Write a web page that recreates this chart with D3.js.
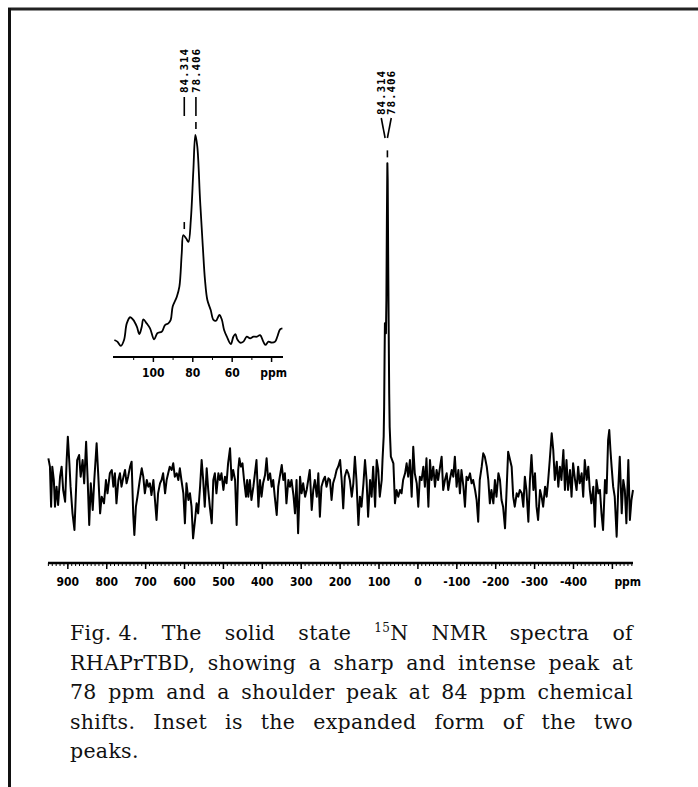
<html>
<head>
<script src="https://d3js.org/d3.v7.min.js"></script>
<style>
  body { margin: 0; background: #fff; }
  .tick-label { font-family: "Liberation Sans Narrow", "DejaVu Sans Condensed", sans-serif; font-weight: bold; font-stretch: condensed; }
  .peak-label { font-family: "DejaVu Sans Mono", monospace; font-weight: bold; }
  .caption { font-family: "DejaVu Serif", "Liberation Serif", serif; }
</style>
</head>
<body>
<div id="vis"></div>
<script>
// main spectrum, [ppm, relative intensity]
var mainSpectrum = [[950,9.5],[946,7],[943,-5],[940,7],[936,3],[933,-5],[929,1],[925,-4.5],[920,4],[916,7],[912,0],[907,-3.5],[903,9],[900,16],[896,8],[893,1],[888,-7],[883,-12],[879,0],[876,9],[871,10.5],[867,4],[862,9],[858,2],[853,14.5],[849,3],[845,-10.5],[841,2],[836,-6],[832,3],[826,14],[822,5],[817,-7],[813,-2],[807,-4],[802,3],[798,-1],[792,5],[787,6],[783,1],[779,5],[775,-4],[770,3],[766,5],[762,1],[757,4],[753,6],[749,2],[745,4],[740,7],[736,8.5],[732,-7],[729,-13.5],[725,-5],[721,-2],[715,3],[710,6.5],[706,4],[702,-1],[697,3],[693,1],[689,2],[685,-1.5],[680,3],[676,-3],[672,-9],[668,-1],[663,2],[659,3],[655,5],[650,-1],[646,3],[642,5],[638,7],[633,6],[629,8],[625,4],[620,5],[616,3],[612,6.5],[608,3],[603,-1],[599,-10],[595,2],[590,-3],[586,-1],[582,-5],[578,-14.5],[573,-9],[569,-4],[565,-7],[560,1],[556,9],[552,3],[548,-5],[543,6.5],[539,0],[535,-5],[530,-10],[526,3],[522,5],[518,-1],[513,5],[509,3],[505,5],[500,0],[496,4],[492,2],[488,8],[483,12.5],[479,3],[475,6],[470,3],[466,-10.5],[462,6],[459,9.5],[455,7],[451,8],[447,3],[442,-2],[439,3],[436,-2],[432,3],[428,-3],[423,1],[419,5],[415,9],[410,-5],[406,3],[402,-2],[398,2],[393,4.5],[389,9.5],[385,3],[380,5],[376,1],[372,3],[368,-2],[363,-7.5],[359,1],[355,4],[350,7.5],[346,3],[342,5],[338,-4],[333,3],[329,1],[325,3],[320,-1.5],[316,-7],[312,3],[308,-13],[303,4],[299,-1],[295,2],[290,-2],[286,0],[282,3],[278,6],[273,-6],[269,0],[265,3],[260,-2],[256,5],[252,-8],[248,1],[243,3],[239,4],[235,1],[230,3.5],[226,3],[222,-3],[218,2],[213,4],[209,6],[205,7],[200,9],[196,3],[192,-5.5],[188,4],[183,6],[179,5],[175,3],[170,-2],[166,2],[162,10],[158,3],[153,-10.5],[149,-2],[145,-5],[140,2],[136,9],[132,3],[128,-8],[123,3],
  [119,-2],[115,7],[110,-5],[106,9],[102,6],[98,-2],[93,3],
  [91,9],[88,16],[86.8,25],[85.6,41],[84.8,50],[83.4,48],[82.2,47],[81,57],[79.7,81],[78.5,98],[77.7,93],[76.3,67],[74.9,45],[73.8,29],[72.6,19],[70.9,14],[69.5,10],
  [63,8],[59,-4],[55,0],[50.5,-2],[46,0],[42,-1],[38,3],[33,5],[29,8],[25,4],[20.5,9],[16,-2],[12,13],[8,5],[3,2],[-1,-5],[-5,4],[-9.5,3],[-14,7],[-18,1],[-22,9.5],[-27,-5],[-31,9],[-35,3],[-39.5,7],[-44,1],[-48,6],[-52,3],[-57,7],[-61,10],[-65,0],[-69.5,3],[-74,5],[-78,0],[-82,3],[-87,6],[-91,4],[-95,10],[-99.5,1],[-104,6],[-108,-1],[-112,6],[-117,1],[-121,-5],[-125,4],[-129,3],[-134,5],[-138,2],[-142,3],[-147,0],[-151,-3],[-155,-9.5],[-159,3],[-164,7],[-168,11],[-172,10],[-177,7],[-181,3],[-185,-4],[-189,0],[-194,-4],[-198,3],[-202,-2],[-207,5],[-211,3],[-215,-3],[-219,-5],[-224,-11.5],[-228,0],[-232,11.5],[-237,9],[-241,7],[-245,-2],[-249,-5],[-254,-1],[-258,-2],[-262,0],[-267,-1],[-271,-5],[-275,4],[-279,0],[-284,-9.5],[-288,3],[-292,10.5],[-297,0],[-301,5],[-305,-5],[-309,-9],[-314,0],[-318,-2],[-322,-5],[-327,1],[-331,-2],[-335,3],[-339,9],[-344,17],[-348,12],[-352,3],[-357,8.5],[-361,1],[-365,7],[-369,3],[-374,12],[-378,0],[-382,9],[-386,0],[-391,6],[-395,-2],[-399,8],[-404,3],[-408,0],[-412,7],[-416,2],[-421,5],[-425,-2],[-429,9],[-434,3],[-438,7],[-442,0],[-446,-4],[-451,1],[-455,-11],[-459,3],[-464,-1],[-468,0],[-472,-7],[-476,-12],[-481,3],[-485,-1],[-489,15],[-492,18],[-495,12],[-498,7],[-502,1],[-506,-2],[-511,-14],[-515,0],[-519,10],[-524,-7],[-528,3],[-532,0],[-536,-10],[-541,9],[-545,-9],[-549,-3],[-553,0]];

// expanded inset, [ppm, relative intensity]
var insetSpectrum = [[119.8,0],[118.3,-0.8],[116.5,-2.9],[114.9,0],[113.5,8.1],[111.8,11.1],[110.2,9.8],[108.4,6.5],[107.1,2.9],[105.9,6.5],[105.1,10.1],[103.4,8.1],[101.7,5.7],[99.6,0.3],[98.0,3.3],[95.7,4.1],[94.1,7.3],[92.4,8.1],[91.2,9.8],[90.2,16.3],[88.1,21.1],[86.8,26],[85.6,42.3],[84.8,51.2],[83.4,49.6],[82.2,47.9],[81.0,58.5],[79.7,82.9],[78.7,100],[77.7,94.3],[76.3,68.3],[74.9,45.5],[73.8,29.3],[72.6,19.5],[70.9,14.6],[69.5,9.8],[68.2,9.4],[66.5,12.2],[65.3,10.1],[64.1,4.9],[62.7,1.6],[60.7,-2],[59.4,1.6],[58.4,2.9],[57.4,0.3],[56.0,-1.3],[54.3,-0.8],[52.6,1.6],[50.9,0.8],[49.2,1.6],[47.5,1.6],[45.8,2.4],[44.2,-0.8],[43.1,-2.4],[41.6,-0.8],[39.9,-1.3],[38.2,-0.8],[37.1,1.6],[35.7,5.2],[34.5,5.7]];

var mainTicks = [900, 800, 700, 600, 500, 400, 300, 200, 100, 0, -100, -200, -300, -400];
var insetTicks = [100, 80, 60];
var peakLabels = ["84.314", "78.406"];
var peakPpm = [84.314, 78.406];
var mainPeakInt = 98;
var insetPeakInt = [51.2, 100];

var captionLines = [
  ["Fig. 4.", "The", "solid", "state", "15N", "NMR", "spectra", "of"],
  ["RHAPrTBD,", "showing", "a", "sharp", "and", "intense", "peak", "at"],
  ["78", "ppm", "and", "a", "shoulder", "peak", "at", "84", "ppm", "chemical"],
  ["shifts.", "Inset", "is", "the", "expanded", "form", "of", "the", "two"],
  ["peaks."]
];

var W = 698, H = 787;
var svg = d3.select("#vis").append("svg")
  .attr("width", W).attr("height", H);

// frame
svg.append("line").attr("x1", 8).attr("x2", W).attr("y1", 9).attr("y2", 9)
  .attr("stroke", "#222").attr("stroke-width", 3);
svg.append("line").attr("x1", 9.5).attr("x2", 9.5).attr("y1", 8).attr("y2", H)
  .attr("stroke", "#111").attr("stroke-width", 3);

// ---- main spectrum ----
var x = d3.scaleLinear().domain([951, -553]).range([48, 633]);
var y = d3.scaleLinear().domain([0, 100]).range([490, 156.7]);
var axisY = 563;

var line = d3.line()
  .x(function (d) { return x(d[0]); })
  .y(function (d) { return y(d[1]); });

svg.append("path").datum(mainSpectrum)
  .attr("d", line)
  .attr("fill", "none").attr("stroke", "#000")
  .attr("stroke-width", 2).attr("stroke-linejoin", "round");

var gx = svg.append("g").attr("transform", "translate(0," + axisY + ")");
gx.append("line").attr("x1", x(951)).attr("x2", x(-553))
  .attr("stroke", "#000").attr("stroke-width", 2.5);
gx.selectAll(".minor").data(d3.range(-550, 951, 10)).enter().append("line")
  .attr("x1", function (d) { return x(d); }).attr("x2", function (d) { return x(d); })
  .attr("y1", 0).attr("y2", 3).attr("stroke", "#000").attr("stroke-width", 1);
gx.selectAll(".major").data(mainTicks.concat([-500])).enter().append("line")
  .attr("x1", function (d) { return x(d); }).attr("x2", function (d) { return x(d); })
  .attr("y1", 0).attr("y2", 6).attr("stroke", "#000").attr("stroke-width", 1.5);
gx.selectAll(".lab").data(mainTicks).enter().append("text")
  .attr("class", "tick-label")
  .attr("x", function (d) { return x(d); }).attr("y", 23)
  .attr("text-anchor", "middle").style("font-size", "12px")
  .text(function (d) { return d; });
gx.append("text").attr("class", "tick-label")
  .attr("x", x(-500) + 2).attr("y", 23).style("font-size", "12px")
  .text("ppm");

// peak labels, main
var mainMid = (x(peakPpm[0]) + x(peakPpm[1])) / 2;
peakLabels.forEach(function (t, i) {
  var lx = mainMid + (i === 0 ? -5 : 5);
  svg.append("text").attr("class", "peak-label")
    .attr("transform", "translate(" + lx + ",115) rotate(-90)")
    .attr("dy", "0.38em").style("font-size", "11px").style("letter-spacing", "0.9px")
    .text(t);
  svg.append("line").attr("x1", lx).attr("y1", 118)
    .attr("x2", x(peakPpm[i])).attr("y2", 138)
    .attr("stroke", "#000").attr("stroke-width", 1.6);
});
var mpy = y(mainPeakInt);
svg.append("line").attr("x1", x(peakPpm[1])).attr("x2", x(peakPpm[1]))
  .attr("y1", mpy - 13).attr("y2", mpy - 6)
  .attr("stroke", "#000").attr("stroke-width", 1.6);

// ---- inset ----
var xi = d3.scaleLinear().domain([120.5, 34.2]).range([113, 283]);
var yi = d3.scaleLinear().domain([0, 100]).range([340, 135]);
var insetAxisY = 357;

var insetLine = d3.line()
  .x(function (d) { return xi(d[0]); })
  .y(function (d) { return yi(d[1]); })
  .curve(d3.curveCatmullRom);

svg.append("path").datum(insetSpectrum)
  .attr("d", insetLine)
  .attr("fill", "none").attr("stroke", "#000")
  .attr("stroke-width", 1.8).attr("stroke-linejoin", "round");

var gi = svg.append("g").attr("transform", "translate(0," + insetAxisY + ")");
gi.append("line").attr("x1", xi(120.5)).attr("x2", xi(34.2))
  .attr("stroke", "#000").attr("stroke-width", 2.2);
gi.selectAll(".minor").data([110, 90, 70, 50]).enter().append("line")
  .attr("x1", function (d) { return xi(d); }).attr("x2", function (d) { return xi(d); })
  .attr("y1", 0).attr("y2", 3).attr("stroke", "#000").attr("stroke-width", 1);
gi.selectAll(".major").data(insetTicks.concat([40])).enter().append("line")
  .attr("x1", function (d) { return xi(d); }).attr("x2", function (d) { return xi(d); })
  .attr("y1", 0).attr("y2", 5).attr("stroke", "#000").attr("stroke-width", 1.5);
gi.selectAll(".lab").data(insetTicks).enter().append("text")
  .attr("class", "tick-label")
  .attr("x", function (d) { return xi(d); }).attr("y", 20)
  .attr("text-anchor", "middle").style("font-size", "12px")
  .text(function (d) { return d; });
gi.append("text").attr("class", "tick-label")
  .attr("x", xi(40) + 2).attr("y", 20).attr("text-anchor", "middle")
  .style("font-size", "12px").text("ppm");

peakLabels.forEach(function (t, i) {
  var lx = xi(peakPpm[i]);
  svg.append("text").attr("class", "peak-label")
    .attr("transform", "translate(" + lx + ",93) rotate(-90)")
    .attr("dy", "0.38em").style("font-size", "11px").style("letter-spacing", "0.9px")
    .text(t);
  svg.append("line").attr("x1", lx).attr("x2", lx).attr("y1", 97).attr("y2", 116)
    .attr("stroke", "#000").attr("stroke-width", 1.6);
  var py = yi(insetPeakInt[i]);
  svg.append("line").attr("x1", lx).attr("x2", lx)
    .attr("y1", py - 13).attr("y2", py - 6)
    .attr("stroke", "#000").attr("stroke-width", 1.6);
});

// ---- caption, justified ----
var capLeft = 70, capRight = 633, capTop = 640, capStep = 29.5;
captionLines.forEach(function (words, li) {
  var by = capTop + li * capStep;
  var nodes = words.map(function (w) {
    var t = svg.append("text").attr("class", "caption")
      .attr("y", by).style("font-size", "20.5px").style("letter-spacing", "0.3px")
      .attr("fill", "#111");
    if (w === "15N") {
      t.append("tspan").style("font-size", "12px").attr("dy", -8).text("15");
      t.append("tspan").attr("dy", 8).text("N");
    } else {
      t.text(w);
    }
    return t;
  });
  var widths = nodes.map(function (n) { return n.node().getComputedTextLength(); });
  var total = d3.sum(widths);
  var last = li === captionLines.length - 1;
  var gap = last ? 6 : (capRight - capLeft - total) / (words.length - 1);
  var cx = capLeft;
  nodes.forEach(function (n, k) {
    n.attr("x", cx);
    cx += widths[k] + gap;
  });
});
</script>
</body>
</html>
